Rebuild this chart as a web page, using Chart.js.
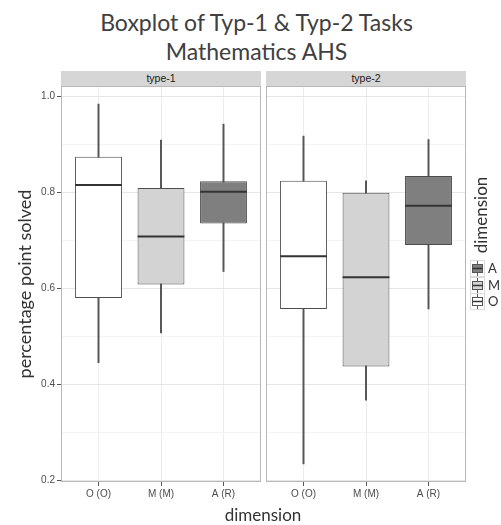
<!DOCTYPE html>
<html><head><meta charset="utf-8">
<script src="https://cdn.jsdelivr.net/npm/chart.js@4.4.1/dist/chart.umd.min.js"></script>
<style>
html,body{margin:0;padding:0;background:#fff;width:501px;height:525px;overflow:hidden;font-family:Lato,"Liberation Sans",sans-serif;}
.abs{position:absolute;}
#title{left:0;width:513px;top:8px;text-align:center;font-size:23px;line-height:29px;color:#404040;}
.strip{top:71px;height:15px;width:200px;background:#d6d6d6;text-align:center;font:10.5px "Liberation Sans",Arial,sans-serif;line-height:15px;color:#1a1a1a;}
#ytitle{width:300px;left:-126px;top:274px;height:20px;line-height:20px;text-align:center;font-size:18px;color:#333;transform:rotate(-90deg);}
#xtitle{left:163px;width:200px;top:505px;height:20px;line-height:20px;text-align:center;font-size:17px;color:#333;}
#ltitle{width:120px;left:421px;top:205px;height:20px;line-height:20px;text-align:center;font-size:17px;color:#333;transform:rotate(-90deg);}
.lkey{left:470px;width:15px;height:17px;}
.llab{left:488px;font:13px Lato,"Liberation Sans",sans-serif;color:#333;height:16px;line-height:16px;}
canvas{position:absolute;}
</style></head>
<body>
<div id="title" class="abs">Boxplot of Typ-1 &amp; Typ-2 Tasks<br>Mathematics AHS</div>
<div id="strip1" class="abs strip"></div>
<div id="strip2" class="abs strip"></div>
<canvas id="c1" width="266" height="430" style="left:0px;top:80px;width:266px;height:430px"></canvas>
<canvas id="c2" width="210" height="430" style="left:261px;top:80px;width:210px;height:430px"></canvas>
<div id="ytitle" class="abs">percentage point solved</div>
<div id="xtitle" class="abs">dimension</div>
<div id="ltitle" class="abs">dimension</div>
<div id="legend"></div>
<script>
// ---- data ----
const categories = ["O (O)", "M (M)", "A (R)"];
const panels = ["type-1", "type-2"];
const legendLabels = ["A", "M", "O"];
const yMajorTicks = [0.2, 0.4, 0.6, 0.8, 1.0];
const yMinorTicks = [0.3, 0.5, 0.7, 0.9];
// type-1 boxplot statistics, per category (O, M, A)
const t1Min    = [0.445, 0.507, 0.635];
const t1Q1     = [0.580, 0.608, 0.735];
const t1Median = [0.815, 0.708, 0.801];
const t1Q3     = [0.874, 0.809, 0.823];
const t1Max    = [0.984, 0.909, 0.942];
// type-2 boxplot statistics, per category (O, M, A)
const t2Min    = [0.234, 0.367, 0.557];
const t2Q1     = [0.557, 0.437, 0.690];
const t2Median = [0.667, 0.623, 0.772];
const t2Q3     = [0.824, 0.799, 0.834];
const t2Max    = [0.917, 0.824, 0.910];

// ---- styles ----
const fillColors = ["#ffffff", "#d3d3d3", "#7f7f7f"];      // O, M, A
const legendFill = {A: "#7f7f7f", M: "#d3d3d3", O: "#ffffff"};

const allLo = Math.min(...t1Min, ...t2Min), allHi = Math.max(...t1Max, ...t2Max);
const pad = (allHi - allLo) * 0.05;
const yLo = allLo - pad, yHi = allHi + pad;

document.getElementById('strip1').textContent = panels[0];
document.getElementById('strip2').textContent = panels[1];
document.getElementById('strip1').style.left = '61px';
document.getElementById('strip2').style.left = '266px';

const borderPlugin = {
  id: 'panelBorder',
  afterDatasetsDraw(chart) {
    const a = chart.chartArea, c = chart.ctx;
    c.save();
    c.strokeStyle = '#b8b8b8'; c.lineWidth = 1;
    c.strokeRect(Math.round(a.left) + 0.5, Math.round(a.top) + 0.5,
                 Math.round(a.right - a.left) - 1, Math.round(a.bottom - a.top) - 1);
    c.restore();
  }
};

const isMajor = v => yMajorTicks.some(m => Math.abs(m - v) < 1e-9);

function makePanel(id, mins, q1s, meds, q3s, maxs, showY) {
  const whiskerData = categories.map((c, i) => ({x: i + 1, y: [mins[i], maxs[i]]}));
  const boxData = categories.map((c, i) => ({x: i + 1, y: [q1s[i], q3s[i]]}));
  const medData = categories.map((c, i) => ({x: i + 1, y: meds[i]}));
  return new Chart(document.getElementById(id), {
    type: 'bar',
    data: { datasets: [
      { type: 'line', label: 'median', data: medData, showLine: false, pointStyle: 'line',
        pointRadius: 23.4, pointHoverRadius: 23.4, pointBorderColor: '#333333',
        pointBorderWidth: 2, borderColor: '#333333', order: 0 },
      { type: 'bar', label: 'box', data: boxData, backgroundColor: fillColors,
        borderColor: '#4d4d4d', borderWidth: 1, borderSkipped: false, grouped: false,
        barPercentage: 0.75, categoryPercentage: 1, order: 1 },
      { type: 'bar', label: 'whisker', data: whiskerData, backgroundColor: '#555555',
        barThickness: 1.3, grouped: false, order: 2 }
    ]},
    options: {
      responsive: false, animation: false, events: [],
      layout: { autoPadding: false, padding: { top: 6, right: 5, left: showY ? 0 : 5, bottom: 0 } },
      plugins: { legend: { display: false }, tooltip: { enabled: false } },
      scales: {
        x: {
          type: 'linear', min: 0.4, max: 3.6, offset: false,
          afterBuildTicks: s => { s.ticks = categories.map((c, i) => ({value: i + 1})); },
          afterFit: s => { s.height = 28; s.paddingLeft = 0; s.paddingRight = 0; },
          ticks: { callback: v => categories[v - 1], autoSkip: false, maxRotation: 0,
                   font: { family: 'Liberation Sans', size: 10 }, color: '#4d4d4d', padding: 2 },
          grid: { offset: false, color: '#ececec', tickColor: '#555555', tickLength: 4, lineWidth: 1 },
          border: { display: false }
        },
        y: {
          type: 'linear', min: yLo, max: yHi,
          afterBuildTicks: s => { s.ticks = [...yMajorTicks, ...yMinorTicks].sort((a, b) => a - b).map(v => ({value: v})); },
          afterFit: s => { s.width = showY ? 61 : 0; s.paddingTop = 0; s.paddingBottom = 0; },
          ticks: { display: showY, autoSkip: false, callback: v => isMajor(v) ? v.toFixed(1) : '',
                   font: { family: 'Liberation Sans', size: 10 }, color: '#4d4d4d', padding: 2 },
          grid: { color: ctx => isMajor(ctx.tick.value) ? '#e6e6e6' : '#f4f4f4',
                  tickColor: ctx => isMajor(ctx.tick.value) ? '#555555' : 'rgba(0,0,0,0)',
                  drawTicks: showY, tickLength: showY ? 4 : 0, lineWidth: 1 },
          border: { display: false }
        }
      }
    },
    plugins: [borderPlugin]
  });
}

makePanel('c1', t1Min, t1Q1, t1Median, t1Q3, t1Max, true);
makePanel('c2', t2Min, t2Q1, t2Median, t2Q3, t2Max, false);

// legend
const lg = document.getElementById('legend');
legendLabels.forEach((lab, i) => {
  const top = 260 + i * 16.5;
  const key = document.createElement('div');
  key.className = 'abs lkey';
  key.style.top = top + 'px';
  key.innerHTML = '<svg width="15" height="17" viewBox="0 0 15 17">' +
    '<rect x="0.5" y="0.5" width="14" height="16" fill="#ffffff" stroke="#dcdcdc"/>' +
    '<line x1="7.5" y1="1" x2="7.5" y2="16" stroke="#5a5a5a" stroke-width="1"/>' +
    '<rect x="2.5" y="4.5" width="10" height="8" fill="' + legendFill[lab] + '" stroke="#555"/>' +
    '<line x1="2.5" y1="8.5" x2="12.5" y2="8.5" stroke="#333" stroke-width="1.5"/></svg>';
  lg.appendChild(key);
  const t = document.createElement('div');
  t.className = 'abs llab';
  t.style.top = top + 'px';
  t.textContent = lab;
  lg.appendChild(t);
});
</script>
</body></html>
